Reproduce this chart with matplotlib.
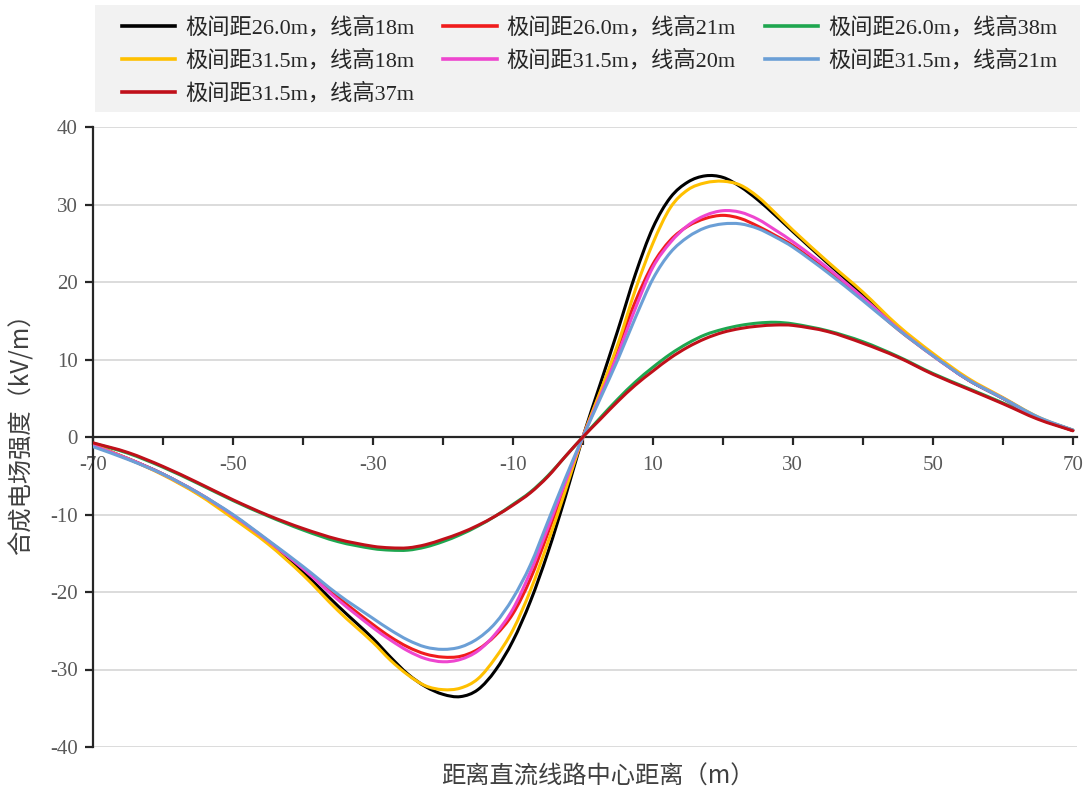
import matplotlib
matplotlib.use("Agg")
import matplotlib.pyplot as plt
from matplotlib.path import Path
from matplotlib.patches import PathPatch, Rectangle
from matplotlib.lines import Line2D
from matplotlib.ticker import FixedLocator, FuncFormatter

# Lateral distance from the DC line centre (m)
distance = [-70, -65, -60, -55, -50, -45, -40, -35, -30, -27.5, -25, -22.5, -20, -17.5,
            -15, -12.5, -10, -7.5, -5, -2.5, 0, 2.5, 5, 7.5, 10, 12.5, 15, 17.5, 20,
            22.5, 25, 27.5, 30, 35, 40, 45, 50, 55, 60, 65, 70]

# Total (composite) electric field at ground level (kV/m)
e_260_h18 = [-1.0, -2.8, -4.8, -7.3, -10.3, -13.6, -17.4, -21.8, -26.0, -28.4, -30.6, -32.2,
             -33.2, -33.5, -32.6, -30.1, -26.3, -21.2, -14.9, -7.7, 0.0,
             6.9, 13.8, 21.0, 27.0, 30.9, 32.9, 33.7, 33.5, 32.3, 30.6, 28.6, 26.5, 22.4,
             18.4, 14.2, 10.6, 7.4, 5.0, 2.5, 0.85]
e_260_h21 = [-1.1, -2.8, -4.8, -7.2, -10.1, -13.4, -16.9, -20.7, -24.2, -25.8, -27.1, -28.0,
             -28.4, -28.3, -27.4, -25.6, -22.8, -18.3, -12.4, -6.2, 0.0,
             5.8, 11.6, 17.5, 22.3, 25.4, 27.2, 28.2, 28.6, 28.2, 27.2, 26.0, 24.7, 21.4,
             17.8, 13.9, 10.5, 7.4, 5.0, 2.5, 0.85]
e_260_h38 = [-0.8, -2.1, -3.9, -6.0, -8.2, -10.2, -12.0, -13.5, -14.4, -14.6, -14.6, -14.2,
             -13.5, -12.6, -11.5, -10.2, -8.7, -7.1, -5.0, -2.5, 0.0,
             2.5, 4.9, 7.1, 9.0, 10.7, 12.1, 13.2, 13.9, 14.4, 14.7, 14.8, 14.6, 13.7,
             12.3, 10.4, 8.2, 6.3, 4.4, 2.4, 0.9]
e_315_h18 = [-1.0, -2.8, -4.9, -7.4, -10.5, -13.8, -17.8, -22.4, -26.5, -28.8, -30.7, -32.1,
             -32.6, -32.4, -31.2, -28.5, -24.9, -19.8, -13.6, -6.9, 0.0,
             5.9, 12.0, 19.0, 25.0, 29.6, 31.9, 32.8, 33.0, 32.5, 31.0, 28.9, 26.7, 22.6,
             18.7, 14.4, 10.8, 7.6, 5.1, 2.6, 0.85]
e_315_h20 = [-1.1, -2.8, -4.8, -7.2, -10.1, -13.4, -17.0, -21.0, -24.6, -26.2, -27.6, -28.6,
             -29.0, -28.7, -27.6, -25.4, -22.2, -17.4, -11.7, -5.8, 0.0,
             5.3, 10.7, 16.6, 21.9, 25.1, 27.3, 28.6, 29.2, 29.0, 28.1, 26.7, 25.2, 21.8,
             18.0, 14.0, 10.5, 7.4, 5.0, 2.5, 0.85]
e_315_h21 = [-1.25, -2.9, -4.8, -7.2, -10.0, -13.3, -16.7, -20.3, -23.4, -24.9, -26.2, -27.1,
             -27.4, -27.1, -26.0, -24.0, -20.8, -16.5, -10.9, -5.3, 0.0,
             5.0, 10.0, 15.4, 20.4, 23.8, 25.8, 27.0, 27.5, 27.5, 26.9, 25.8, 24.5, 21.2,
             17.6, 13.9, 10.5, 7.4, 5.0, 2.6, 0.9]
e_315_h37 = [-0.75, -2.0, -3.8, -5.9, -8.1, -10.1, -11.8, -13.2, -14.1, -14.3, -14.3, -13.9,
             -13.2, -12.4, -11.4, -10.2, -8.8, -7.2, -5.1, -2.5, 0.0,
             2.3, 4.6, 6.7, 8.5, 10.2, 11.6, 12.7, 13.5, 14.0, 14.3, 14.45, 14.4, 13.6,
             12.1, 10.3, 8.1, 6.2, 4.3, 2.3, 0.8]

series_labels = ["极间距26.0m，线高18m", "极间距26.0m，线高21m", "极间距26.0m，线高38m",
                 "极间距31.5m，线高18m", "极间距31.5m，线高20m", "极间距31.5m，线高21m",
                 "极间距31.5m，线高37m"]
series_values = [e_260_h18, e_260_h21, e_260_h38, e_315_h18, e_315_h20, e_315_h21, e_315_h37]
series_colors = ["#000000", "#f01c1c", "#1ea64f", "#ffc000", "#ee46cf", "#6b9fd6", "#c0101a"]

x_ticks = list(range(-70, 71, 10))
y_ticks = list(range(-40, 41, 10))

CJK = ["Noto Sans CJK SC", "DejaVu Sans"]
SERIF = ["Liberation Serif", "Noto Sans CJK SC"]
plt.rcParams["font.family"] = CJK
plt.rcParams["axes.unicode_minus"] = False


def smooth_path(xs, ys):
    """Cubic Bezier path through the points (smoothed line, Hermite tangents)."""
    n = len(xs)
    slopes = []
    for i in range(n):
        a = max(i - 1, 0)
        b = min(i + 1, n - 1)
        slopes.append((ys[b] - ys[a]) / (xs[b] - xs[a]))
    verts = [(xs[0], ys[0])]
    codes = [Path.MOVETO]
    for i in range(n - 1):
        h = xs[i + 1] - xs[i]
        verts += [(xs[i] + h / 3, ys[i] + slopes[i] * h / 3),
                  (xs[i + 1] - h / 3, ys[i + 1] - slopes[i + 1] * h / 3),
                  (xs[i + 1], ys[i + 1])]
        codes += [Path.CURVE4] * 3
    return Path(verts, codes)


W, H = 1089, 793
fig = plt.figure(figsize=(W / 100, H / 100), dpi=100)
ax_left, ax_right, ax_top, ax_bottom = 93, 1077, 127, 747
ax = fig.add_axes([ax_left / W, 1 - ax_bottom / H, (ax_right - ax_left) / W,
                   (ax_bottom - ax_top) / H])

ax.set_xlim(-70, 70.6)
ax.set_ylim(-40, 40)

for yv in y_ticks:
    if yv != 0:
        ax.axhline(yv, color="#d9d9d9", lw=1.3, zorder=0)

lw = 2.2
for vals, col in zip(series_values, series_colors):
    ax.add_patch(PathPatch(smooth_path(distance, vals), facecolor="none",
                           edgecolor=col, lw=lw, zorder=3, capstyle="round",
                           joinstyle="round"))

# spines: left axis and horizontal axis through zero
for s in ["top", "right"]:
    ax.spines[s].set_visible(False)
ax.spines["left"].set_color("#262626")
ax.spines["left"].set_linewidth(1.6)
ax.spines["bottom"].set_position(("data", 0))
ax.spines["bottom"].set_color("#262626")
ax.spines["bottom"].set_linewidth(1.6)
ax.spines["bottom"].set_zorder(2)

ax.yaxis.set_major_locator(FixedLocator(y_ticks))
ax.xaxis.set_major_locator(FixedLocator(x_ticks))
ax.xaxis.set_major_formatter(FuncFormatter(
    lambda v, p: f"{int(v)}" if int(round(v)) % 20 != 0 else ""))
ax.tick_params(axis="y", direction="out", length=6, width=1.6, color="#262626",
               pad=5, labelsize=15, labelcolor="#595959")
ax.tick_params(axis="x", direction="out", length=6, width=1.6, color="#262626",
               pad=8, labelsize=15, labelcolor="#595959")
for lab in ax.get_xticklabels() + ax.get_yticklabels():
    lab.set_family(SERIF)

fig.text(22 / W, 1 - 428 / H, "合成电场强度（kV/m）", fontsize=17.5, rotation=90,
         color="#404040", ha="center", va="center")
fig.text(598 / W, 1 - 777 / H, "距离直流线路中心距离（m）", fontsize=17.5,
         color="#404040", ha="center", va="center")

# legend with grey background band
fig.patches.append(Rectangle((95 / W, 1 - 112 / H), (1080 - 95) / W, (112 - 5) / H,
                             transform=fig.transFigure, facecolor="#f2f2f2",
                             edgecolor="none", zorder=0))
order = [0, 3, 6, 1, 4, 2, 5]
handles = [Line2D([], [], color=series_colors[i], lw=2.6) for i in order]
labels = [series_labels[i] for i in order]
leg = fig.legend(handles, labels, ncol=3, loc="upper left",
                 bbox_to_anchor=(122 / W, 1 - 17 / H), frameon=False,
                 prop={"family": SERIF, "size": 16}, labelcolor="#262626",
                 handlelength=2.4, handletextpad=0.45, columnspacing=1.3,
                 labelspacing=0.52, borderpad=0, borderaxespad=0)

fig.savefig("out.png", dpi=100)
